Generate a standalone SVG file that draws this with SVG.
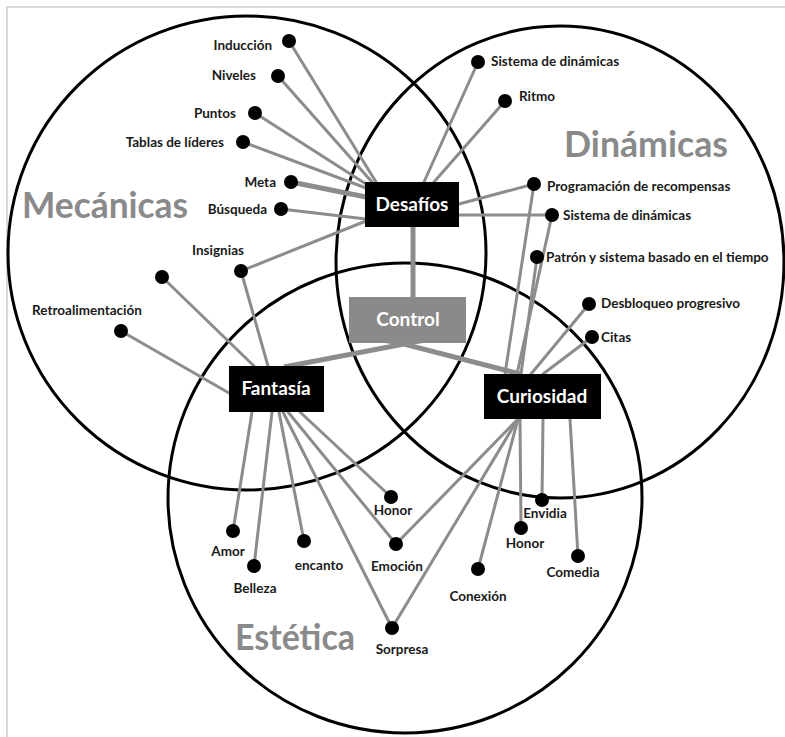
<svg xmlns="http://www.w3.org/2000/svg" width="785" height="737" viewBox="0 0 785 737">
  <style>
    .frame { stroke: #d9d9d9; stroke-width: 2; fill: none; }
    .set { fill: none; stroke: #000; stroke-width: 3; }
    .set-title { font-family: Lato, "Liberation Sans", sans-serif; font-weight: bold; font-size: 36px; fill: #8a8a8a; }
    .link { stroke: #8c8c8c; stroke-width: 3; fill: none; stroke-linecap: round; }
    .link-thick { stroke: #8c8c8c; stroke-width: 5; fill: none; }
    .dot { fill: #000; }
    .lbl { font-family: Lato, "Liberation Sans", sans-serif; font-weight: bold; font-size: 13.5px; fill: #1a1a1a; }
    .box { fill: #000; }
    .box-gray { fill: #8a8a8a; }
    .box-text { font-family: Lato, "Liberation Sans", sans-serif; font-weight: bold; font-size: 19px; fill: #fff; text-anchor: middle; }
    .end { text-anchor: end; }
    .mid { text-anchor: middle; }
  </style>

  <rect width="785" height="737" fill="#fff"/>
  <path class="frame" d="M7,737 V7 H785"/>

  <!-- three overlapping sets -->
  <g id="sets">
    <ellipse class="set" cx="247" cy="253" rx="239" ry="237"/>
    <ellipse class="set" cx="560" cy="262" rx="224" ry="236"/>
    <ellipse class="set" cx="405" cy="498" rx="237" ry="235"/>
    <text class="set-title" x="22" y="218" textLength="166" lengthAdjust="spacingAndGlyphs">Mecánicas</text>
    <text class="set-title" x="564" y="157" textLength="164" lengthAdjust="spacingAndGlyphs">Dinámicas</text>
    <text class="set-title" x="235" y="650" textLength="120" lengthAdjust="spacingAndGlyphs">Estética</text>
  </g>

  <!-- connectors -->
  <g id="connectors">
    <!-- to Desafíos -->
    <line class="link" x1="289" y1="41" x2="376" y2="182"/>
    <line class="link" x1="278" y1="76" x2="372" y2="182"/>
    <line class="link" x1="255" y1="113" x2="366" y2="184"/>
    <line class="link" x1="243" y1="142" x2="366" y2="188"/>
    <line class="link-thick" x1="291" y1="182" x2="366" y2="197"/>
    <line class="link" x1="281" y1="209" x2="366" y2="219"/>
    <line class="link" x1="241" y1="271" x2="366" y2="221"/>
    <line class="link" x1="478" y1="62" x2="424" y2="182"/>
    <line class="link" x1="505" y1="101" x2="434" y2="182"/>
    <line class="link" x1="534" y1="184" x2="459" y2="204"/>
    <line class="link" x1="552" y1="215" x2="459" y2="215"/>
    <!-- Desafíos to Control -->
    <line class="link-thick" x1="413" y1="227" x2="413" y2="297"/>
    <!-- Control to Fantasía and Curiosidad -->
    <polyline class="link-thick" points="284,367 404,344 520,374"/>
    <polygon points="378,342 430,342 404,346" fill="#8c8c8c"/>
    <!-- to Fantasía from above -->
    <line class="link" x1="241" y1="271" x2="268" y2="366"/>
    <line class="link" x1="162" y1="277" x2="254" y2="366"/>
    <line class="link" x1="121" y1="331" x2="229" y2="393"/>
    <!-- to Curiosidad from above -->
    <line class="link" x1="534" y1="184" x2="505" y2="374"/>
    <line class="link" x1="552" y1="215" x2="517" y2="374"/>
    <line class="link" x1="537" y1="257" x2="521" y2="374"/>
    <line class="link" x1="589" y1="304" x2="531" y2="374"/>
    <line class="link" x1="592" y1="337" x2="543" y2="374"/>
    <!-- Fantasía downward -->
    <line class="link" x1="252" y1="412" x2="233" y2="531"/>
    <line class="link" x1="272" y1="412" x2="254" y2="566"/>
    <line class="link" x1="279" y1="412" x2="304" y2="541"/>
    <line class="link" x1="283" y1="412" x2="392" y2="628"/>
    <line class="link" x1="288" y1="412" x2="396" y2="544"/>
    <line class="link" x1="300" y1="412" x2="391" y2="497"/>
    <!-- Curiosidad downward -->
    <line class="link" x1="518" y1="419" x2="396" y2="544"/>
    <line class="link" x1="518" y1="419" x2="392" y2="628"/>
    <line class="link" x1="518" y1="419" x2="478" y2="569"/>
    <line class="link" x1="520" y1="419" x2="521" y2="528"/>
    <line class="link" x1="543" y1="419" x2="542" y2="500"/>
    <line class="link" x1="570" y1="419" x2="578" y2="556"/>
  </g>

  <!-- central nodes -->
  <g id="desafios">
    <rect class="box" x="365" y="182" width="94" height="45"/>
    <text class="box-text" x="412" y="211">Desafíos</text>
  </g>
  <g id="control">
    <rect class="box-gray" x="349" y="297" width="117" height="46"/>
    <text class="box-text" x="408" y="326">Control</text>
  </g>
  <g id="fantasia">
    <rect class="box" x="229" y="366" width="95" height="46"/>
    <text class="box-text" x="276" y="395">Fantasía</text>
  </g>
  <g id="curiosidad">
    <rect class="box" x="484" y="374" width="117" height="45"/>
    <text class="box-text" x="542" y="403">Curiosidad</text>
  </g>

  <!-- Mecánicas leaves -->
  <g id="induccion"><circle class="dot" cx="289" cy="41" r="7"/><text class="lbl end" x="272" y="50">Inducción</text></g>
  <g id="niveles"><circle class="dot" cx="278" cy="76" r="7"/><text class="lbl end" x="256" y="80">Niveles</text></g>
  <g id="puntos"><circle class="dot" cx="255" cy="113" r="7"/><text class="lbl end" x="236" y="118">Puntos</text></g>
  <g id="tablas"><circle class="dot" cx="243" cy="142" r="7"/><text class="lbl end" x="224" y="147">Tablas de líderes</text></g>
  <g id="meta"><circle class="dot" cx="291" cy="182" r="7"/><text class="lbl end" x="276" y="187">Meta</text></g>
  <g id="busqueda"><circle class="dot" cx="281" cy="209" r="7"/><text class="lbl end" x="267" y="214">Búsqueda</text></g>
  <g id="insignias"><circle class="dot" cx="241" cy="271" r="7"/><text class="lbl mid" x="218" y="255">Insignias</text></g>
  <g id="sin-etiqueta"><circle class="dot" cx="162" cy="277" r="7"/></g>
  <g id="retroalimentacion"><circle class="dot" cx="121" cy="331" r="7"/><text class="lbl mid" x="87" y="315">Retroalimentación</text></g>

  <!-- Dinámicas leaves -->
  <g id="sistema-1"><circle class="dot" cx="478" cy="62" r="7"/><text class="lbl" x="491" y="66">Sistema de dinámicas</text></g>
  <g id="ritmo"><circle class="dot" cx="505" cy="101" r="7"/><text class="lbl" x="519" y="101">Ritmo</text></g>
  <g id="programacion"><circle class="dot" cx="534" cy="184" r="7"/><text class="lbl" x="547" y="191">Programación de recompensas</text></g>
  <g id="sistema-2"><circle class="dot" cx="552" cy="215" r="7"/><text class="lbl" x="563" y="220">Sistema de dinámicas</text></g>
  <g id="patron"><circle class="dot" cx="537" cy="257" r="7"/><text class="lbl" x="546" y="262">Patrón y sistema basado en el tiempo</text></g>
  <g id="desbloqueo"><circle class="dot" cx="589" cy="304" r="7"/><text class="lbl" x="601" y="308">Desbloqueo progresivo</text></g>
  <g id="citas"><circle class="dot" cx="592" cy="337" r="7"/><text class="lbl" x="601" y="342">Citas</text></g>

  <!-- Estética leaves -->
  <g id="amor"><circle class="dot" cx="233" cy="531" r="7"/><text class="lbl mid" x="228" y="556">Amor</text></g>
  <g id="belleza"><circle class="dot" cx="254" cy="566" r="7"/><text class="lbl mid" x="255" y="593">Belleza</text></g>
  <g id="encanto"><circle class="dot" cx="304" cy="541" r="7"/><text class="lbl mid" x="319" y="570">encanto</text></g>
  <g id="honor-1"><circle class="dot" cx="391" cy="497" r="7"/><text class="lbl mid" x="393" y="515">Honor</text></g>
  <g id="emocion"><circle class="dot" cx="396" cy="544" r="7"/><text class="lbl mid" x="397" y="571">Emoción</text></g>
  <g id="sorpresa"><circle class="dot" cx="392" cy="628" r="7"/><text class="lbl mid" x="402" y="654">Sorpresa</text></g>
  <g id="conexion"><circle class="dot" cx="478" cy="569" r="7"/><text class="lbl mid" x="478" y="601">Conexión</text></g>
  <g id="honor-2"><circle class="dot" cx="521" cy="528" r="7"/><text class="lbl mid" x="525" y="548">Honor</text></g>
  <g id="envidia"><circle class="dot" cx="542" cy="500" r="7"/><text class="lbl mid" x="545" y="518">Envidia</text></g>
  <g id="comedia"><circle class="dot" cx="578" cy="556" r="7"/><text class="lbl mid" x="573" y="577">Comedia</text></g>
</svg>
